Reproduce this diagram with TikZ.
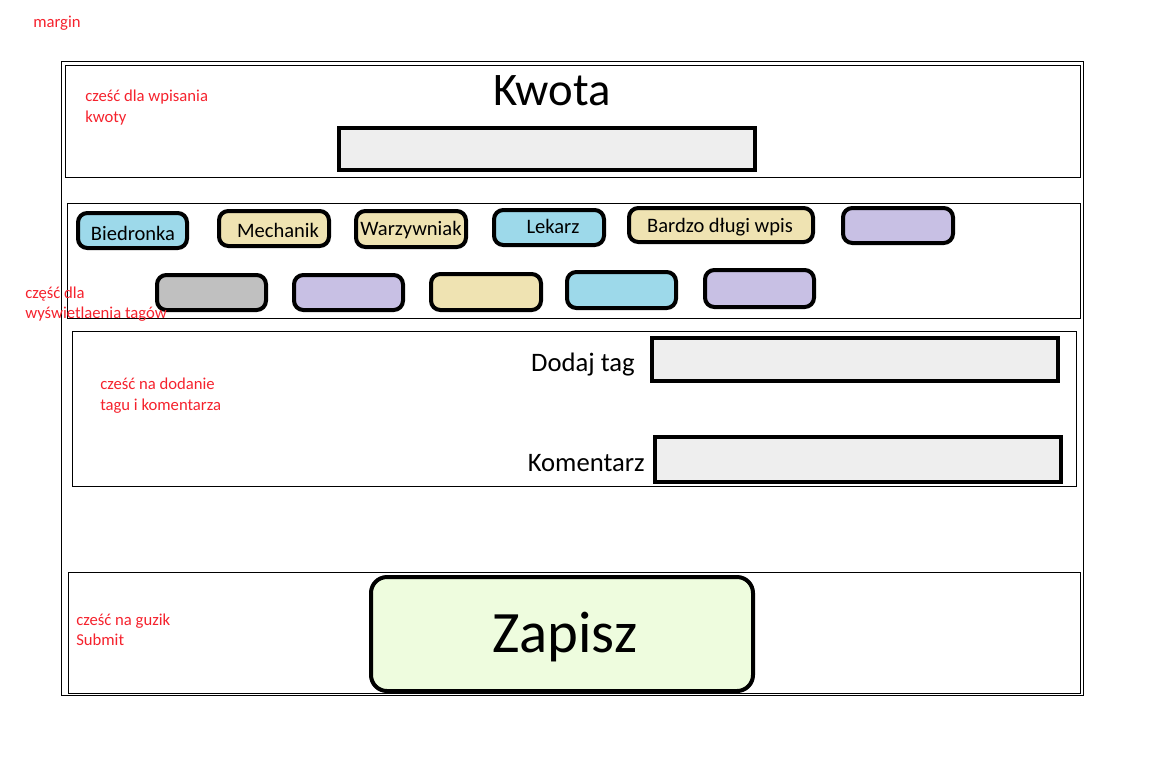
\documentclass[tikz,border=0pt]{standalone}
\usepackage{fontspec}
\setmainfont{Carlito}
\usetikzlibrary{fit}
\definecolor{redtxt}{HTML}{F5222D}
\definecolor{inputfill}{HTML}{EEEEEE}
\definecolor{tagblue}{HTML}{9DD9EA}
\definecolor{tagbeige}{HTML}{EFE3B2}
\definecolor{tagpurple}{HTML}{C8C0E4}
\definecolor{taggray}{HTML}{C0C0C0}
\definecolor{btnfill}{HTML}{EEFCDE}
\tikzset{
  frame/.style={draw=black, line width=0.75pt, inner sep=0pt},
  inputbox/.style={draw=black, line width=3pt, fill=inputfill, inner sep=0pt},
  tagbox/.style={draw=black, line width=3pt, rounded corners=7pt, inner sep=0pt},
  btnbox/.style={draw=black, line width=3pt, rounded corners=12pt, fill=btnfill, inner sep=0pt},
  note/.style={text=redtxt, font=\fontsize{12.5}{14}\selectfont, inner sep=0pt},
  taglabel/.style={font=\fontsize{15.4}{17}\selectfont, inner sep=0pt, anchor=base},
  fieldlabel/.style={font=\fontsize{20}{24}\selectfont, inner sep=0pt, anchor=base east},
}
\begin{document}
\begin{tikzpicture}[x=0.75pt, y=-0.75pt]
\useasboundingbox (0,0) rectangle (1152,765);
% outer frame
\node[frame, fit={(61,61) (1083,695)}] (outer) {};
% sections
\node[frame, fit={(65,65) (1080,177)}] (secKwota) {};
\node[frame, fit={(67,203) (1080,318)}] (secTags) {};
\node[frame, fit={(72,331) (1076,486)}] (secAdd) {};
\node[frame, fit={(68,572) (1080,693)}] (secSubmit) {};
% Kwota
\node[font=\fontsize{35}{40}\selectfont, inner sep=0pt, anchor=base] (kwota) at (552,105) {Kwota};
\node[inputbox, fit={(339,128) (755,170)}] (kwotaIn) {};
% tags row 1
\node[tagbox, fill=tagblue, fit={(78,213) (187,248)}] (t1) {};
\node[tagbox, fill=tagbeige, fit={(219,211) (329,246)}] (t2) {};
\node[tagbox, fill=tagbeige, fit={(356,211) (466,247)}] (t3) {};
\node[tagbox, fill=tagblue, fit={(494,210) (604,245)}] (t4) {};
\node[tagbox, fill=tagbeige, fit={(629,208) (813,242)}] (t5) {};
\node[tagbox, fill=tagpurple, fit={(843,208) (953,243)}] (t6) {};
\node[taglabel] (l1) at (133,240) {Biedronka};
\node[taglabel] (l2) at (278,237) {Mechanik};
\node[taglabel] (l3) at (411,235) {Warzywniak};
\node[taglabel] (l4) at (553,233) {Lekarz};
\node[taglabel] (l5) at (720,232) {Bardzo długi wpis};
% tags row 2
\node[tagbox, fill=taggray, fit={(157,275) (266,310)}] (t7) {};
\node[tagbox, fill=tagpurple, fit={(294,275) (403,310)}] (t8) {};
\node[tagbox, fill=tagbeige, fit={(431,274) (541,310)}] (t9) {};
\node[tagbox, fill=tagblue, fit={(567,272) (676,308)}] (t10) {};
\node[tagbox, fill=tagpurple, fit={(705,270) (814,307)}] (t11) {};
% add tag / comment
\node[fieldlabel] (dodaj) at (635,371) {Dodaj tag};
\node[inputbox, fit={(652,338) (1058,381)}] (dodajIn) {};
\node[fieldlabel] (koment) at (645,471) {Komentarz};
\node[inputbox, fit={(655,437) (1061,482)}] (komentIn) {};
% submit
\node[btnbox, fit={(371,577) (753,691)}] (btn) {};
\node[font=\fontsize{44}{50}\selectfont, inner sep=0pt, anchor=base] (zapisz) at (565,652) {Zapisz};
% red notes
\node[note, anchor=base west] (n0) at (33,27) {margin};
\node[note, anchor=base west] (n1a) at (85,101) {cześć dla wpisania};
\node[note, anchor=base west] (n1b) at (85,122) {kwoty};
\node[note, anchor=base west] (n2a) at (25,298) {część dla};
\node[note, anchor=base west] (n2b) at (25,318) {wyświetlaenia tagów};
\node[note, anchor=base west] (n3a) at (100,389) {cześć na dodanie};
\node[note, anchor=base west] (n3b) at (100,410) {tagu i komentarza};
\node[note, anchor=base west] (n4a) at (76,625) {cześć na guzik};
\node[note, anchor=base west] (n4b) at (76,645) {Submit};
\end{tikzpicture}
\end{document}
